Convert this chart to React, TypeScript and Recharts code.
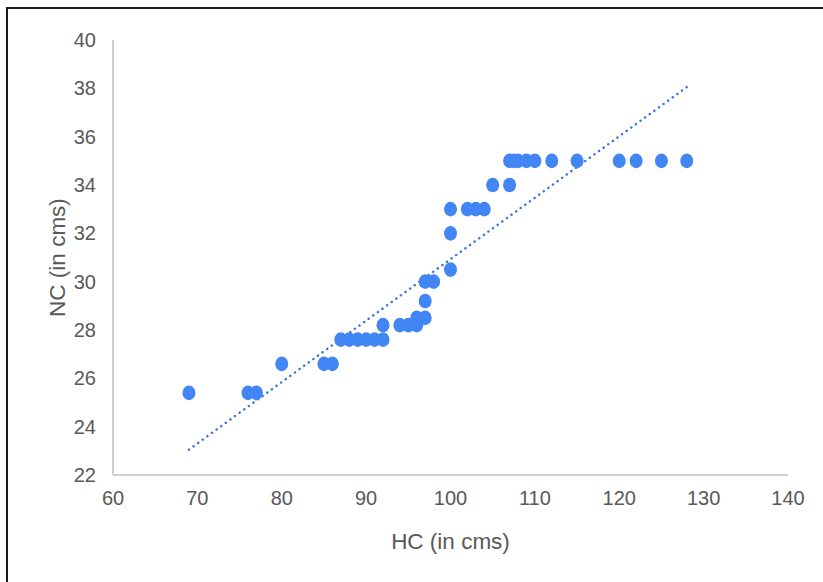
import { Scatter, ScatterChart, XAxis, YAxis } from "recharts";

const hcValues = [69, 76, 77, 80, 85, 86, 87, 88, 89, 90, 91, 92, 92, 94, 95, 96, 96, 97, 97, 97, 98, 100, 100, 100, 102, 103, 104, 105, 107, 107, 107.5, 108, 109, 110, 112, 115, 120, 122, 125, 128];
const ncValues = [25.4, 25.4, 25.4, 26.6, 26.6, 26.6, 27.6, 27.6, 27.6, 27.6, 27.6, 27.6, 28.2, 28.2, 28.2, 28.2, 28.5, 28.5, 29.2, 30, 30, 30.5, 32, 33, 33, 33, 33, 34, 34, 35, 35, 35, 35, 35, 35, 35, 35, 35, 35, 35];

// linear trendline end points
const trendHc = [69, 128];
const trendNc = [23.05, 38.05];

const xTicks = [60, 70, 80, 90, 100, 110, 120, 130, 140];
const yTicks = [22, 24, 26, 28, 30, 32, 34, 36, 38, 40];

const points = hcValues.map((hc, i) => ({ hc, nc: ncValues[i] }));
const trend = trendHc.map((hc, i) => ({ hc, nc: trendNc[i] }));

const FONT = "'Liberation Sans', Arial, sans-serif";
const TEXT = "#595959";
const AXIS = "#bfbfbf";
const DOT = "#4285f4";

const Dot = (props: any) => <ellipse cx={props.cx} cy={props.cy} rx={6.5} ry={7.3} fill={DOT} />;

export default function App() {
  return <div style={{ position: "fixed", left: 0, top: 0, width: 823, height: 582, background: "#fff", fontFamily: FONT }}>
    <div style={{ position: "absolute", left: 6, top: 7, right: 0, bottom: 0, borderTop: "2px solid #1a1a1a", borderLeft: "2px solid #1a1a1a" }} />
    <ScatterChart width={823} height={582} margin={{ top: 40, right: 35, bottom: 0, left: 0 }}>
      <XAxis type="number" dataKey="hc" domain={[60, 140]} ticks={xTicks} tickLine={false} tickSize={0} tickMargin={16}
        axisLine={{ stroke: AXIS, strokeWidth: 1.5 }} height={107} interval={0}
        tick={{ fill: TEXT, fontSize: 20, fontFamily: FONT }}
        label={{ value: "HC (in cms)", position: "insideTop", offset: 58, fill: TEXT, fontSize: 22.5, fontFamily: FONT }} />
      <YAxis type="number" dataKey="nc" domain={[22, 40]} ticks={yTicks} tickLine={false} tickSize={0} tickMargin={17}
        axisLine={{ stroke: AXIS, strokeWidth: 1.5 }} width={113} interval={0}
        tick={{ fill: TEXT, fontSize: 20, fontFamily: FONT }}
        label={{ value: "NC (in cms)", angle: -90, position: "insideLeft", offset: 57, fill: TEXT, fontSize: 22.5, fontFamily: FONT, style: { textAnchor: "middle" } }} />
      <Scatter data={trend} isAnimationActive={false} shape={() => <g />}
        line={{ stroke: "#3c78d8", strokeWidth: 2.5, strokeDasharray: "0.1 5.6", strokeLinecap: "round" }} />
      <Scatter data={points} isAnimationActive={false} shape={Dot} />
    </ScatterChart>
  </div>;
}
